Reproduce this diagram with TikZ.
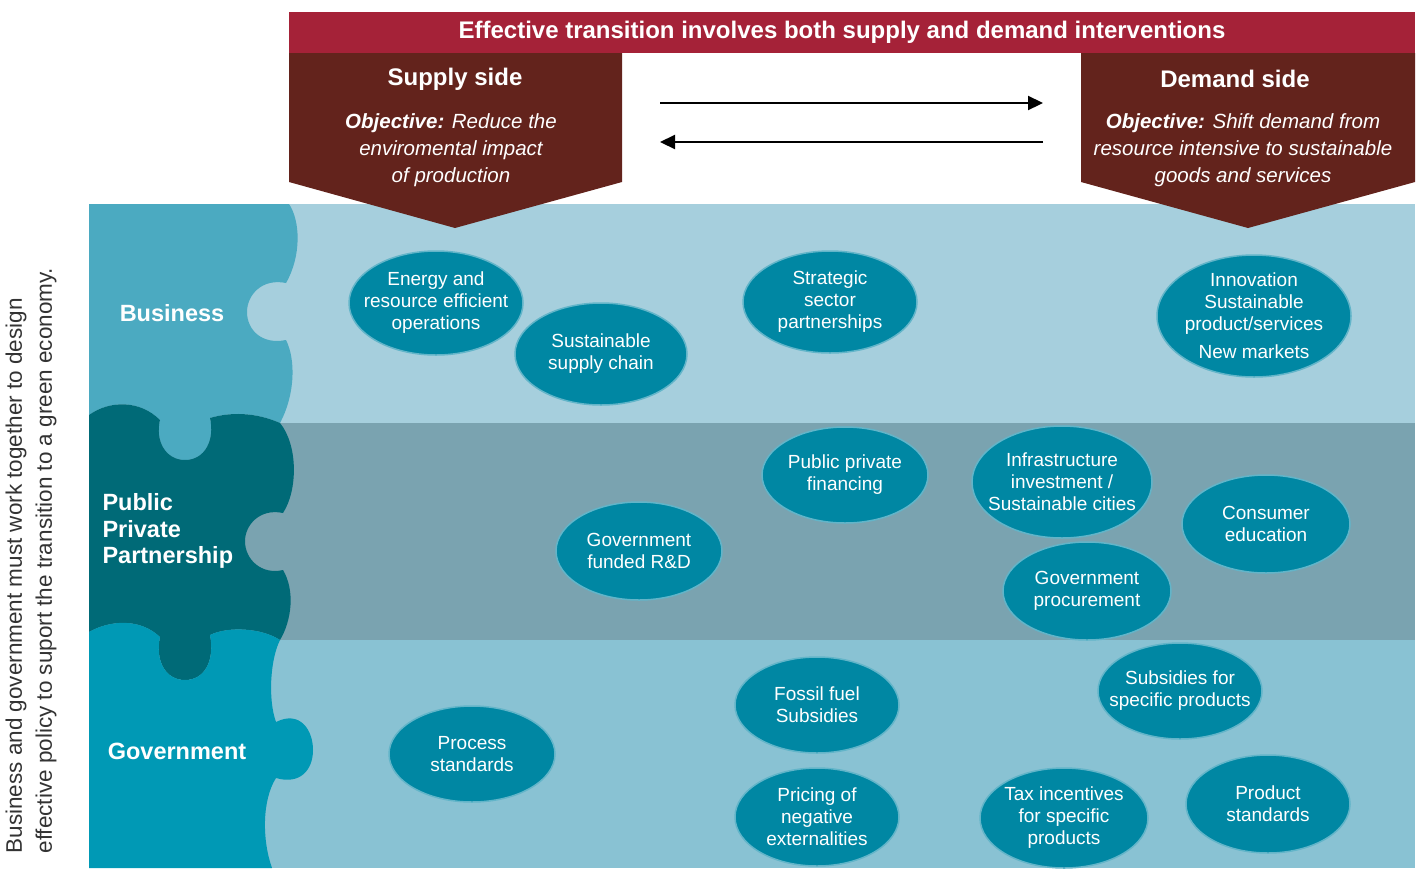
\documentclass[tikz,border=0pt]{standalone}
\usepackage{fontspec}
\setmainfont{Liberation Sans}
\usetikzlibrary{arrows.meta,shapes.geometric}
\definecolor{banner}{HTML}{A52238}
\definecolor{pent}{HTML}{63231C}
\definecolor{bandA}{HTML}{A6CFDD}
\definecolor{bandB}{HTML}{7AA3B0}
\definecolor{bandC}{HTML}{89C2D3}
\definecolor{pieceA}{HTML}{4BAAC1}
\definecolor{pieceB}{HTML}{006A77}
\definecolor{pieceC}{HTML}{0099B5}
\definecolor{bubfill}{HTML}{0087A3}
\definecolor{bubedge}{HTML}{62B5C9}
\definecolor{notegray}{HTML}{333333}
\tikzset{
  bubshape/.style={fill=bubfill, draw=bubedge, line width=1.5pt},
  bubtext/.style={text=white, align=center, inner sep=0pt, font=\fontsize{19}{22}\selectfont},
  sidetitle/.style={text=white, font=\bfseries\fontsize{24}{28}\selectfont},
  objtext/.style={text=white, align=center, font=\itshape\fontsize{20.5}{27}\selectfont},
  piecelabel/.style={text=white, font=\bfseries\fontsize{23.5}{26.5}\selectfont, align=left},
  arr/.style={line width=2.2pt, -{Triangle[length=15pt,width=14pt]}},
}
\newcommand{\bubble}[6]{%
  \draw[bubshape] (#2,#3) ellipse [x radius=#4, y radius=#5];
  \node[bubtext] (#1) at (#2,#3) {#6};}
\begin{document}
\begin{tikzpicture}[x=1pt,y=-1pt]
\useasboundingbox (0,0) rectangle (1421,868);
% bands
\fill[bandA] (89,204) rectangle (1415,423);
\fill[bandB] (89,423) rectangle (1415,640);
\fill[bandC] (89,640) rectangle (1415,868);
% puzzle pieces
\fill[pieceA] (89,204) -- (289,204)
  .. controls (300,220) and (302,255) .. (286,283)
  .. controls (262,278) and (247,295) .. (247,312)
  .. controls (247,330) and (262,345) .. (286,340)
  .. controls (296,360) and (295,395) .. (280,423)
  .. controls (255,412) and (230,412) .. (210,418)
  .. controls (215,440) and (205,460) .. (185,460)
  .. controls (165,460) and (155,440) .. (160,420)
  .. controls (140,400) and (110,400) .. (89,415) -- cycle;
\fill[pieceB] (89,415)
  .. controls (110,400) and (140,400) .. (160,420)
  .. controls (155,440) and (165,460) .. (185,460)
  .. controls (205,460) and (215,440) .. (210,418)
  .. controls (230,412) and (255,412) .. (280,423)
  .. controls (298,445) and (298,490) .. (283,513)
  .. controls (260,508) and (245,525) .. (245,541)
  .. controls (245,560) and (262,575) .. (283,570)
  .. controls (295,590) and (292,620) .. (280,640)
  .. controls (262,628) and (228,626) .. (210,635)
  .. controls (215,660) and (205,680) .. (185,680)
  .. controls (165,680) and (155,660) .. (160,637)
  .. controls (140,618) and (110,620) .. (89,632) -- cycle;
\fill[pieceC] (89,632)
  .. controls (110,620) and (140,618) .. (160,637)
  .. controls (155,660) and (165,680) .. (185,680)
  .. controls (205,680) and (215,660) .. (210,635)
  .. controls (228,626) and (262,628) .. (280,640)
  .. controls (270,660) and (268,700) .. (276,722)
  .. controls (300,710) and (313,730) .. (313,750)
  .. controls (313,770) and (300,785) .. (276,778)
  .. controls (262,800) and (262,840) .. (272,868)
  -- (89,868) -- cycle;
\node[piecelabel] (lbus) at (172,313) {Business};
\node[piecelabel, anchor=west] (lppp) at (99,531) {Public\\Private\\Partnership};
\node[piecelabel] (lgov) at (177,751) {Government};
% banner and pentagons
\fill[banner] (289,12) rectangle (1415,53);
\node[text=white, font=\bfseries\fontsize{24}{27}\selectfont] (title) at (842,32)
  {Effective transition involves both supply and demand interventions};
\fill[pent] (289,53) -- (622,53) -- (622,182) -- (455,228) -- (289,182) -- cycle;
\fill[pent] (1081,53) -- (1415,53) -- (1415,182) -- (1248,228) -- (1081,182) -- cycle;
\node[sidetitle] (sup) at (455,79) {Supply side};
\node[objtext] (supobj) at (451,150) {\textbf{Objective:} Reduce the\\enviromental impact\\of production};
\node[sidetitle] (dem) at (1235,79) {Demand side};
\node[objtext] (demobj) at (1243,150) {\textbf{Objective:} Shift demand from\\resource intensive to sustainable\\goods and services};
% arrows
\coordinate (a1) at (660,103);
\coordinate (a2) at (1043,103);
\coordinate (b1) at (1043,142);
\coordinate (b2) at (660,142);
\draw[arr] (a1) -- (a2);
\draw[arr] (b1) -- (b2);
% side note
\node[anchor=north west, rotate=90, align=left, text=notegray,
  font=\fontsize{22.5}{30}\selectfont] (note) at (2,857)
  {Business and government must work together to design\\effective policy to suport the transition to a green economy.};
% bubbles
\bubble{e1}{436}{303}{87}{52}{Energy and\\resource efficient\\operations}
\bubble{e2}{601}{354}{86}{51}{Sustainable\\supply chain}
\bubble{e3}{830}{302}{87}{51}{Strategic\\sector\\partnerships}
\bubble{e4}{1254}{316}{97}{61}{Innovation\\Sustainable\\product/services\\[6pt]New markets}
\bubble{e5}{845}{475}{83}{48}{Public private\\financing}
\bubble{e6}{1062}{482}{90}{56}{Infrastructure\\investment /\\Sustainable cities}
\bubble{e7}{1266}{524}{84}{49}{Consumer\\education}
\bubble{e8}{1087}{591}{84}{49}{Government\\procurement}
\bubble{e9}{639}{551}{83}{49}{Government\\funded R\&D}
\bubble{e10}{817}{705}{82}{48}{Fossil fuel\\Subsidies}
\bubble{e11}{817}{817}{82}{49}{Pricing of\\negative\\externalities}
\bubble{e12}{1064}{818}{84}{50}{Tax incentives\\for specific\\products}
\bubble{e13}{1180}{691}{82}{48}{Subsidies for\\specific products}
\bubble{e14}{1268}{804}{82}{49}{Product\\standards}
\bubble{e15}{472}{754}{83}{48}{Process\\standards}
\end{tikzpicture}
\end{document}
